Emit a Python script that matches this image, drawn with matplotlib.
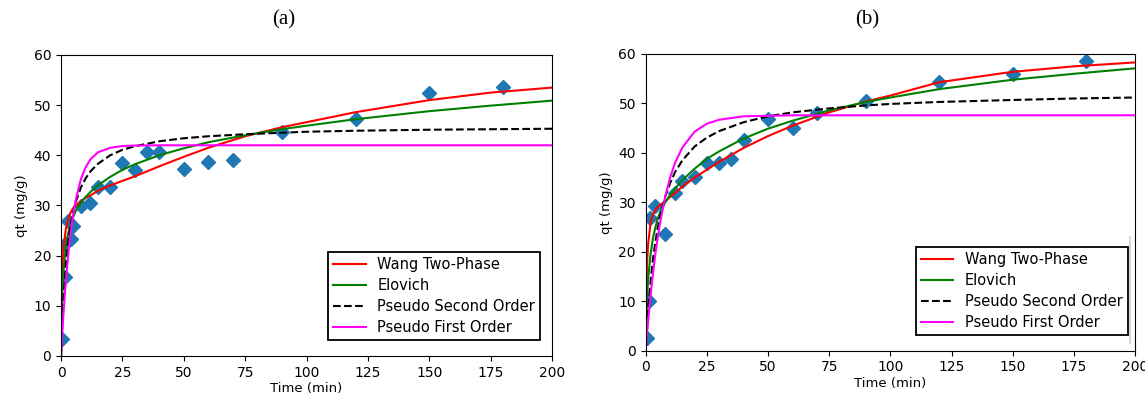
"""
Adsorption kinetics comparison: two panels (a) and (b), experimental qt
points with four fitted kinetic models (curves read off the figure).
"""

import matplotlib

matplotlib.use("Agg")

import matplotlib.pyplot as plt
from matplotlib.lines import Line2D

# ---------------------------------------------------------------------------
# Data
# ---------------------------------------------------------------------------

# experimental points, panel (a)
TIME_A = [0.5, 1.5, 1.2, 3, 4.2, 5, 8, 12, 15, 20, 25, 30, 35, 40, 50, 60, 70, 90, 120, 150, 180]
QT_A = [3.3, 15.7, 22.2, 26.9, 23.4, 25.9, 29.8, 30.5, 33.7, 33.7, 38.5, 37.0, 40.6, 40.6,
        37.3, 38.6, 39.1, 44.7, 47.2, 52.5, 53.7]

# experimental points, panel (b)
TIME_B = [0.5, 1.3, 1.6, 4, 8, 12, 15, 20, 25, 30, 35, 40, 50, 60, 70, 90, 120, 150, 180]
QT_B = [2.5, 10.1, 26.9, 29.2, 23.5, 31.8, 34.3, 35.1, 37.9, 37.9, 38.7, 42.6, 46.8, 45.0,
        48.0, 50.5, 54.4, 55.9, 58.6]

# time grid at which the model curves were read
CURVE_T = [0, 0.5, 1, 2, 3, 4, 5, 6, 8, 10, 12, 15, 20, 25, 30, 40, 50, 60, 75, 90, 100,
           120, 150, 175, 200]

# panel (a) model curves
WANG_A = [0, 17, 21.5, 25.5, 27.4, 28.7, 29.5, 30.0, 30.8, 31.5, 32.0, 32.9, 34.0, 34.9,
          35.8, 37.8, 39.7, 41.5, 43.8, 45.6, 46.6, 48.6, 51.0, 52.5, 53.5]
ELOVICH_A = [0, 12, 17, 22, 24.6, 26.4, 27.8, 28.9, 30.5, 31.7, 32.7, 34.0, 35.7, 37.1,
             38.2, 40.0, 41.4, 42.6, 44.0, 45.2, 45.9, 47.2, 48.8, 49.9, 50.9]
PSO_A = [0, 6.6, 11.5, 18.4, 23.0, 26.3, 28.75, 30.7, 33.5, 35.4, 36.8, 38.3, 40.0, 41.1,
         41.8, 42.8, 43.4, 43.8, 44.2, 44.5, 44.7, 44.9, 45.1, 45.2, 45.3]
PFO_A = [0, 4.5, 8.5, 15.2, 20.6, 24.9, 28.4, 31.1, 35.1, 37.6, 39.2, 40.6, 41.5, 41.85,
         41.95, 42.0, 42.0, 42.0, 42.0, 42.0, 42.0, 42.0, 42.0, 42.0, 42.0]

# panel (b) model curves
WANG_B = [0, 17, 21.5, 25.8, 27.6, 28.5, 29.1, 29.5, 30.2, 31.1, 31.9, 33.2, 35.0, 36.6,
          38.2, 41.0, 43.4, 45.5, 48.2, 50.4, 51.6, 54.3, 56.4, 57.5, 58.3]
ELOVICH_B = [0, 10, 14.5, 19.5, 22.8, 25.0, 26.8, 28.1, 30.0, 31.5, 32.8, 34.5, 36.8, 38.8,
             40.3, 42.9, 44.9, 46.5, 48.6, 50.3, 51.2, 52.9, 54.8, 56.0, 57.1]
PSO_B = [0, 4.4, 8.1, 14.0, 18.6, 22.1, 25.0, 27.4, 31.2, 33.9, 36.1, 38.5, 41.3, 43.1,
         44.4, 46.2, 47.4, 48.2, 49.0, 49.6, 49.9, 50.3, 50.7, 51.0, 51.2]
PFO_B = [0, 3.0, 5.9, 11.2, 15.7, 19.7, 23.1, 26.2, 31.2, 35.0, 38.0, 41.1, 44.3, 45.9,
         46.7, 47.4, 47.5, 47.6, 47.6, 47.6, 47.6, 47.6, 47.6, 47.6, 47.6]

MODEL_LABELS = ["Wang Two-Phase", "Elovich", "Pseudo Second Order", "Pseudo First Order"]
X_TICKS = [0, 25, 50, 75, 100, 125, 150, 175, 200]
Y_TICKS = [0, 10, 20, 30, 40, 50, 60]

# ---------------------------------------------------------------------------
# Style
# ---------------------------------------------------------------------------

OUTPUT_PNG = "out.png"
FIG_W, FIG_H, DPI = 11.45, 3.99, 100

MODEL_STYLES = [
    dict(color="red", linestyle="-"),
    dict(color="green", linestyle="-"),
    dict(color="black", linestyle="--"),
    dict(color="magenta", linestyle="-"),
]
POINT_COLOR = "#1f77b4"


def draw_panel(ax, t_pts, q_pts, curves, legend_anchor):
    """Scatter the measured points, then the four model curves and a legend."""

    ax.plot(t_pts, q_pts, linestyle="none", marker="D", markersize=7.5,
            color=POINT_COLOR)

    for values, label, style in zip(curves, MODEL_LABELS, MODEL_STYLES):
        ax.plot(CURVE_T, values, linewidth=1.5, label=label, **style)

    ax.set_xlim(0, 200)
    ax.set_ylim(0, 60)
    ax.set_xticks(X_TICKS)
    ax.set_yticks(Y_TICKS)
    ax.tick_params(labelsize=10)
    ax.set_xlabel("Time (min)", fontsize=9.5, labelpad=2)
    ax.set_ylabel("qt (mg/g)", fontsize=9.5)

    leg = ax.legend(loc="lower right", bbox_to_anchor=legend_anchor, borderaxespad=0,
                    fontsize=10.5, fancybox=False, framealpha=1, edgecolor="black",
                    handlelength=2.2, labelspacing=0.4, borderpad=0.35)
    leg.get_frame().set_linewidth(1.3)


def main():
    fig = plt.figure(figsize=(FIG_W, FIG_H), dpi=DPI)

    ax_a = fig.add_axes([0.0533, 0.1078, 0.4288, 0.7544])
    ax_b = fig.add_axes([0.5639, 0.1211, 0.4276, 0.7436])

    draw_panel(ax_a, TIME_A, QT_A, [WANG_A, ELOVICH_A, PSO_A, PFO_A], (0.9756, 0.053))
    draw_panel(ax_b, TIME_B, QT_B, [WANG_B, ELOVICH_B, PSO_B, PFO_B], (0.985, 0.053))

    # panel captions
    fig.text(284 / 1145, 1 - 20 / 399, "(a)", ha="center", va="center",
             family="Liberation Serif", fontsize=15)
    fig.text(867 / 1145, 1 - 20 / 399, "(b)", ha="center", va="center",
             family="Liberation Serif", fontsize=15)

    # faint vertical rule beside legend (b), as in the source image
    fig.add_artist(Line2D([1130 / 1145, 1130 / 1145], [1 - 237 / 399, 1 - 343 / 399],
                          color="#d0d0d0", linewidth=1.2))

    fig.savefig(OUTPUT_PNG, dpi=DPI)
    plt.close(fig)


if __name__ == "__main__":
    main()
